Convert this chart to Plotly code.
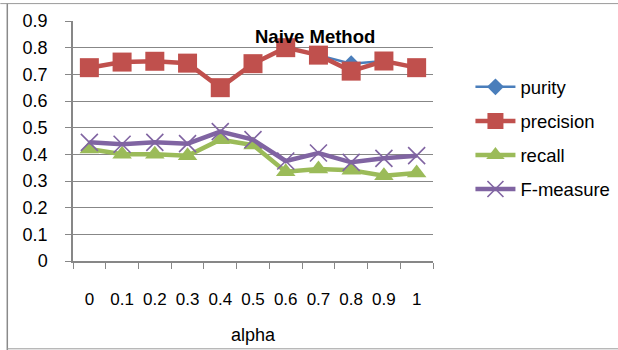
import plotly.graph_objects as go

alpha = ["0", "0.1", "0.2", "0.3", "0.4", "0.5", "0.6", "0.7", "0.8", "0.9", "1"]
purity = [0.725, 0.746, 0.749, 0.742, 0.65, 0.74, 0.80, 0.772, 0.74, 0.75, 0.725]
precision = [0.725, 0.746, 0.749, 0.742, 0.65, 0.74, 0.80, 0.772, 0.712, 0.75, 0.725]
recall = [0.42, 0.40, 0.40, 0.395, 0.455, 0.435, 0.335, 0.345, 0.34, 0.32, 0.33]
fmeasure = [0.445, 0.438, 0.445, 0.44, 0.485, 0.455, 0.375, 0.405, 0.37, 0.385, 0.395]

FONT = "Liberation Sans, Arial, sans-serif"
GRID = "#878787"

fig = go.Figure()
series = [
    ("purity", purity, "#4A7EBB", dict(symbol="diamond", size=13)),
    ("precision", precision, "#C0504D", dict(symbol="square", size=19)),
    ("recall", recall, "#9BBB59", dict(symbol="triangle-up", size=17)),
    ("F-measure", fmeasure, "#8064A2",
     dict(symbol="x-thin-open", size=17, line=dict(width=1.6, color="#8064A2"))),
]
for name, vals, col, mk in series:
    m = dict(color=col, **mk)
    fig.add_trace(go.Scatter(
        x=alpha, y=vals, name=name, mode="lines+markers",
        line=dict(color=col, width=4.5 if name != "purity" else 2.5),
        marker=m, legendgroup=name,
    ))

fig.update_layout(
    width=618, height=350,
    margin=dict(l=72.7, r=185.3, t=20.7, b=89.3, autoexpand=False),
    paper_bgcolor="white", plot_bgcolor="white",
    font=dict(family=FONT, size=17, color="#000000"),
    showlegend=True,
    legend=dict(x=1.104, y=(260.7 - 68) / 240, xanchor="left", yanchor="top",
                font=dict(size=18.5), tracegroupgap=7,
                bgcolor="rgba(0,0,0,0)", itemwidth=40),
    xaxis=dict(
        type="category", range=[-0.5, 10.5], showgrid=False, showline=True,
        linecolor=GRID, linewidth=1.5,
        ticks="outside", tickson="boundaries", ticklen=6, tickcolor=GRID, tickwidth=1.3,
        ticklabelstandoff=22, tickfont=dict(size=17), tickangle=0, automargin=False,
        title=dict(text="alpha", standoff=20, font=dict(size=18)),
    ),
    yaxis=dict(
        range=[0, 0.9], dtick=0.1, showgrid=True, gridcolor=GRID, gridwidth=1.3,
        showline=True, linecolor=GRID, linewidth=1.5, zeroline=False, automargin=False,
        ticks="outside", ticklen=6, tickcolor=GRID, tickwidth=1.3,
        ticklabelstandoff=14, tickfont=dict(size=18),
    ),
    annotations=[dict(
        text="<b>Naive Method</b>", xref="paper", yref="paper",
        x=(314.5 - 72.7) / 360, y=(260.7 - 36.5) / 240,
        showarrow=False, font=dict(size=18.5), xanchor="center", yanchor="middle",
    )],
    shapes=[
        dict(type="line", xref="paper", yref="paper",
             x0=(7 - 72.7) / 360, x1=(7 - 72.7) / 360,
             y0=(260.7 - 3) / 240, y1=(260.7 - 350) / 240,
             line=dict(color="#8a8a8a", width=1.5)),
        dict(type="line", xref="paper", yref="paper",
             x0=(0 - 72.7) / 360, x1=(618 - 72.7) / 360,
             y0=(260.7 - 3.3) / 240, y1=(260.7 - 3.3) / 240,
             line=dict(color="#9a9a9a", width=1)),
        dict(type="line", xref="paper", yref="paper",
             x0=(7 - 72.7) / 360, x1=(618 - 72.7) / 360,
             y0=(260.7 - 348.5) / 240, y1=(260.7 - 348.5) / 240,
             line=dict(color="#9a9a9a", width=1)),
    ],
)

fig.write_html("out.html")
